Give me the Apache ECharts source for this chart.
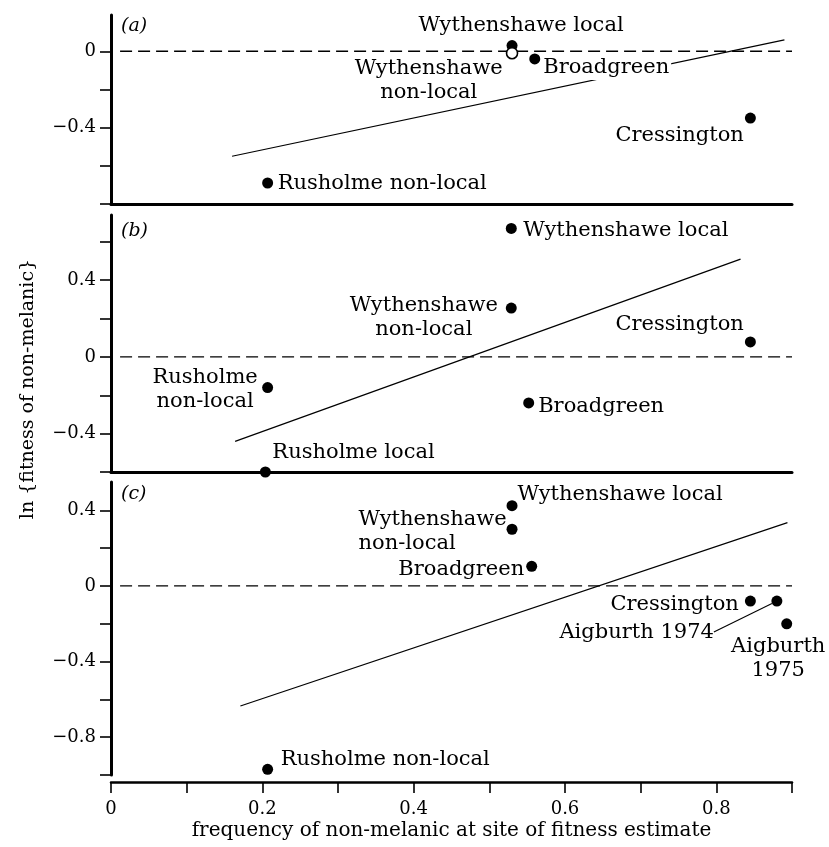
<!DOCTYPE html>
<html><head><meta charset="utf-8">
<script src="https://cdn.jsdelivr.net/npm/echarts@6/dist/echarts.min.js"></script>
<style>html,body{margin:0;padding:0;background:#fff}#c{width:829px;height:847px}</style>
</head><body><div id="c"></div>
<script>
// ---------- Panel (a) ----------
const sitesA = ['Wythenshawe local', 'Wythenshawe\nnon-local', 'Broadgreen', 'Cressington', 'Rusholme non-local'];
const freqA = [0.53, 0.53, 0.56, 0.845, 0.207];
const lnFitA = [0.03, -0.01, -0.04, -0.35, -0.69];
const openSitesA = ['Wythenshawe\nnon-local'];
const fitFreqA = [0.16, 0.89];
const fitLnA = [-0.55, 0.06];
// ---------- Panel (b) ----------
const sitesB = ['Wythenshawe local', 'Wythenshawe\nnon-local', 'Broadgreen', 'Cressington', 'Rusholme\nnon-local', 'Rusholme local'];
const freqB = [0.529, 0.529, 0.552, 0.845, 0.207, 0.204];
const lnFitB = [0.67, 0.255, -0.24, 0.078, -0.16, -0.6];
const fitFreqB = [0.164, 0.832];
const fitLnB = [-0.44, 0.51];
// ---------- Panel (c) ----------
const sitesC = ['Wythenshawe local', 'Wythenshawe\nnon-local', 'Broadgreen', 'Cressington', 'Aigburth 1974', 'Aigburth\n1975', 'Rusholme non-local'];
const freqC = [0.53, 0.53, 0.556, 0.845, 0.88, 0.893, 0.207];
const lnFitC = [0.425, 0.30, 0.104, -0.08, -0.08, -0.2, -0.97];
const fitFreqC = [0.171, 0.894];
const fitLnC = [-0.635, 0.335];
// ---------- zero reference line ----------
const zeroFreq = [0.012, 0.9];
const zeroLn = [0, 0];
// ---------- axes ----------
const xTicks = [0, 0.1, 0.2, 0.3, 0.4, 0.5, 0.6, 0.7, 0.8, 0.9];
const xTickLabels = [0, 0.2, 0.4, 0.6, 0.8];
const yTicksA = [-0.8, -0.6, -0.4, -0.2, 0];
const yTickLabelsA = [-0.4, 0];
const yTicksB = [-0.6, -0.4, -0.2, 0, 0.2, 0.4, 0.6];
const yTickLabelsB = [-0.4, 0, 0.4];
const yTicksC = [-1.0, -0.8, -0.6, -0.4, -0.2, 0, 0.2, 0.4];
const yTickLabelsC = [-0.8, -0.4, 0, 0.4];
const xTitle = 'frequency of non-melanic at site of fitness estimate';
const yTitle = 'ln {fitness of non-melanic}';
const panelTags = ['(a)', '(b)', '(c)'];

const FONT = "'DejaVu Serif', serif";
const INK = '#000';
const LABEL_SIZE = 21;

// label placements (layout only): anchor side, gap, and shift
const placeA = [
  {position: 'top', distance: 2, dx: 9, dy: 0},
  {position: 'left', distance: 4, dx: -73, dy: 27, align: 'center'},
  {position: 'right', distance: 1, dx: 0, dy: 9, backgroundColor: '#fff', padding: [0, 2]},
  {position: 'left', distance: 1, dx: 0, dy: 17},
  {position: 'right', distance: 4.5, dx: 0, dy: 1}
];
const placeB = [
  {position: 'right', distance: 6.5, dx: 0, dy: 2},
  {position: 'left', distance: 6, dx: -76, dy: 10, align: 'center'},
  {position: 'right', distance: 4, dx: 0, dy: 4},
  {position: 'left', distance: 1, dx: 0, dy: -17},
  {position: 'left', distance: 6, dx: -51, dy: 2, align: 'center'},
  {position: 'right', distance: 1.5, dx: 0, dy: -19}
];
const placeC = [
  {position: 'right', distance: 0, dx: 0, dy: -11},
  {position: 'left', distance: 7, dx: -141, dy: 2.5, align: 'left'},
  {position: 'left', distance: 2, dx: 0, dy: 3},
  {position: 'left', distance: 6, dx: 0, dy: 3},
  {position: 'left', distance: 5, dx: -52.5, dy: 31, guide: true},
  {position: 'bottom', distance: 5, dx: -8.5, dy: 0},
  {position: 'right', distance: 7.5, dx: 0, dy: -10}
];

function fmt(v) {
  const r = Math.round(v * 10) / 10;
  if (r === 0) return '0';
  return (r < 0 ? '\u2212' : '') + Math.abs(r).toString();
}

function points(xs, ys, names, place, openNames) {
  return xs.map((x, i) => {
    const open = openNames && openNames.indexOf(names[i]) >= 0;
    const pl = place[i];
    const lab = {
      show: true, formatter: names[i], color: INK, opacity: 1, fontFamily: FONT,
      fontSize: LABEL_SIZE, lineHeight: 24, position: pl.position, distance: pl.distance
    };
    if (pl.align) lab.align = pl.align;
    if (pl.backgroundColor) { lab.backgroundColor = pl.backgroundColor; lab.padding = pl.padding; }
    const item = {value: [x, ys[i]], name: names[i], label: lab};
    if (open) item.itemStyle = {color: '#fff', borderColor: INK, borderWidth: 1.6, opacity: 1};
    if (pl.guide) item.labelLine = {show: true, lineStyle: {color: INK, width: 1.1, opacity: 1}};
    return item;
  });
}

function pair(xs, ys) { return xs.map((x, i) => [x, ys[i]]); }

function xAxisFor(gi, main) {
  const ax = {
    type: 'value', gridIndex: gi, min: 0, max: 0.9,
    splitLine: {show: false},
    axisLine: {show: true, onZero: false, lineStyle: {color: INK, width: 3}},
    axisTick: {show: false},
    axisLabel: {show: false}
  };
  if (main) {
    ax.offset = 7;
    ax.axisLine.lineStyle.width = 2.5;
    ax.axisTick = {show: true, customValues: xTicks, length: 11, lineStyle: {color: INK, width: 1.6}};
    ax.axisLabel = {show: true, customValues: xTickLabels, formatter: fmt, color: INK,
      fontFamily: FONT, fontSize: 18, margin: 18};
    ax.name = xTitle;
    ax.nameLocation = 'middle';
    ax.nameGap = 39;
    ax.nameTextStyle = {color: INK, fontFamily: FONT, fontSize: 20};
  }
  return ax;
}

function yAxisFor(gi, min, max, ticks, labels) {
  return {
    type: 'value', gridIndex: gi, min: min, max: max,
    splitLine: {show: false},
    axisLine: {show: true, onZero: false, lineStyle: {color: INK, width: 3}},
    axisTick: {show: true, customValues: ticks, length: 11, lineStyle: {color: INK, width: 1.6}},
    axisLabel: {show: true, customValues: labels, formatter: fmt, color: INK,
      fontFamily: FONT, fontSize: 18, margin: 15}
  };
}

function panelSeries(idx, xs, ys, names, place, openNames, fx, fy) {
  return [
    {type: 'line', xAxisIndex: idx, yAxisIndex: idx, data: pair(zeroFreq, zeroLn),
      showSymbol: false, symbol: 'none', silent: true, z: 1,
      lineStyle: {color: INK, width: 1.3, type: [12, 6]}},
    {type: 'line', xAxisIndex: idx, yAxisIndex: idx, data: pair(fx, fy),
      showSymbol: false, symbol: 'none', silent: true, z: 2,
      lineStyle: {color: INK, width: 1.2}},
    {type: 'scatter', xAxisIndex: idx, yAxisIndex: idx, clip: false, z: 3,
      symbolSize: 11, itemStyle: {color: INK, opacity: 1},
      labelLayout: function (p) {
        const pl = place[p.dataIndex] || {};
        return {dx: pl.dx || 0, dy: pl.dy || 0};
      },
      data: points(xs, ys, names, place, openNames)}
  ];
}

const chart = echarts.init(document.getElementById('c'));
chart.setOption({
  backgroundColor: '#fff',
  animation: false,
  grid: [
    {left: 111, right: 37, top: 15, height: 189},
    {left: 111, right: 37, top: 215, height: 257},
    {left: 111, right: 37, top: 482, height: 293}
  ],
  xAxis: [xAxisFor(0, false), xAxisFor(1, false), xAxisFor(2, true)],
  yAxis: [
    yAxisFor(0, -0.8, 0.19, yTicksA, yTickLabelsA),
    yAxisFor(1, -0.6, 0.74, yTicksB, yTickLabelsB),
    yAxisFor(2, -1.0, 0.55, yTicksC, yTickLabelsC)
  ],
  graphic: [
    {type: 'text', left: 121, top: 17, style: {text: panelTags[0], font: 'italic 19px ' + FONT, fill: INK}},
    {type: 'text', left: 121, top: 222, style: {text: panelTags[1], font: 'italic 19px ' + FONT, fill: INK}},
    {type: 'text', left: 121, top: 485, style: {text: panelTags[2], font: 'italic 19px ' + FONT, fill: INK}},
    {type: 'text', x: 28, y: 389, rotation: Math.PI / 2,
      style: {text: yTitle, font: '19px ' + FONT, fill: INK, align: 'center', verticalAlign: 'middle'}}
  ],
  series: [].concat(
    panelSeries(0, freqA, lnFitA, sitesA, placeA, openSitesA, fitFreqA, fitLnA),
    panelSeries(1, freqB, lnFitB, sitesB, placeB, null, fitFreqB, fitLnB),
    panelSeries(2, freqC, lnFitC, sitesC, placeC, null, fitFreqC, fitLnC)
  )
});
</script>
</body></html>
